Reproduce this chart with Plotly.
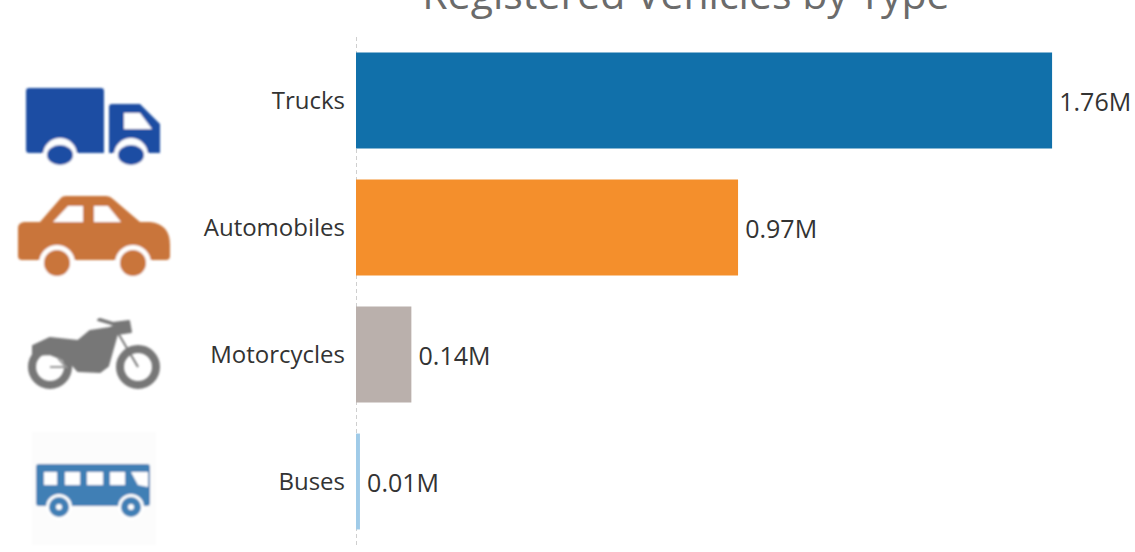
import base64

import plotly.graph_objects as go

vehicle_types = ['Trucks', 'Automobiles', 'Motorcycles', 'Buses']
registered_millions = [1.76, 0.966, 0.14, 0.01]
bar_colors = ['#1170aa', '#f48f2c', '#bab0ac', '#a0cbe8']

WIDTH, HEIGHT = 1135, 552
LEFT, TOP, BOTTOM = 354, 37, 7
PX_PER_MILLION = 395.5
TEXT_FONT = 'Open Sans'

truck_icon = '''
<g fill="#1f4ea3">
<path d="M29 88H101Q104 88 104 91V153H29Q26 153 26 150V91Q26 88 29 88Z"/>
<path d="M112 104H140L160 124V153H109V107Q109 104 112 104Z"/>
</g>
<path d="M124 113H140L152 129H124Z" fill="#fff"/>
<circle cx="60" cy="155" r="17" fill="#fff"/><circle cx="131" cy="155" r="17" fill="#fff"/>
<ellipse cx="60" cy="155" rx="13" ry="10" fill="#1f4ea3"/><ellipse cx="131" cy="155" rx="13" ry="10" fill="#1f4ea3"/>
'''

car_icon = '''
<path d="M66 196H106Q110 196 113 199L140 222H150Q170 224 170 245V256Q170 260 166 260H22Q18 260 18 256V228Q18 223 24 222H40L60 199Q62 196 66 196Z" fill="#c9743a"/>
<path d="M53 222L68 206H83V222Z M94 206H108L121 222H94Z" fill="#fff"/>
<circle cx="57" cy="263" r="18" fill="#fff"/><circle cx="133" cy="263" r="18" fill="#fff"/>
<circle cx="57" cy="263" r="13" fill="#c9743a"/><circle cx="133" cy="263" r="13" fill="#c9743a"/>
'''

motorcycle_icon = '''
<path d="M33 346L50 338L78 341L90 331L110 328L115 325L98 320L100 319L113 323L129 321L131 332L117 334L108 366L100 372L78 371L70 362L50 354L33 355Z"
 fill="#777" stroke="#777" stroke-width="2" stroke-linejoin="round"/>
<circle cx="50" cy="367" r="18" fill="none" stroke="#777" stroke-width="8"/>
<circle cx="138" cy="367" r="18" fill="none" stroke="#777" stroke-width="8"/>
<path d="M118 333L138 367" stroke="#777" stroke-width="2"/>
<path d="M50 367H66L58 358" stroke="#999" stroke-width="2" fill="none"/>
'''

bus_icon = '''
<rect x="32" y="432" width="124" height="113" fill="#fcfcfc"/>
<path d="M39 464H147Q150 464 150 467V503Q150 506 147 506H39Q36 506 36 503V467Q36 464 39 464Z" fill="#3f7fb5"/>
<path d="M44 472H57V485H44Z M65 472H80V485H65Z M87 472H103V485H87Z M110 472H125V485H110Z M131 472H148V487L138 485Z" fill="#fff"/>
<circle cx="59" cy="507" r="13" fill="#fff"/><circle cx="131" cy="507" r="13" fill="#fff"/>
<circle cx="59" cy="507" r="10" fill="#3f7fb5"/><circle cx="131" cy="507" r="10" fill="#3f7fb5"/>
<circle cx="59" cy="507" r="3" fill="#fff"/><circle cx="131" cy="507" r="3" fill="#fff"/>
'''

def icon_uri(body):
    # all icons sit on one 180 x 552 canvas, the left strip of the page
    svg = ('<svg xmlns="http://www.w3.org/2000/svg" width="180" height="552" viewBox="0 0 180 552">'
           '<filter id="soft"><feGaussianBlur stdDeviation="0.8"/></filter>'
           '<g filter="url(#soft)">' + body + '</g></svg>')
    return 'data:image/svg+xml;base64,' + base64.b64encode(svg.encode()).decode()

plot_w = WIDTH - LEFT
plot_h = HEIGHT - TOP - BOTTOM
# 2px of room left of zero, otherwise plotly drops the gridline at the axis edge
x_min = -2 / PX_PER_MILLION

fig = go.Figure(go.Bar(x=registered_millions, y=vehicle_types, orientation='h',
                       marker=dict(color=bar_colors, line=dict(width=0)),
                       texttemplate='\u2009%{x:.2f}M', textposition='outside',
                       textfont=dict(family=TEXT_FONT, size=25, color='#333333'),
                       cliponaxis=False, hoverinfo='skip'))

fig.add_layout_image(source=icon_uri(truck_icon + car_icon + motorcycle_icon + bus_icon),
                     xref='paper', yref='paper',
                     x=-LEFT / plot_w, y=(HEIGHT - BOTTOM) / plot_h,
                     sizex=180 / plot_w, sizey=HEIGHT / plot_h,
                     xanchor='left', yanchor='top', sizing='stretch', layer='above')

fig.update_layout(width=WIDTH, height=HEIGHT, showlegend=False, bargap=0.245,
                  paper_bgcolor='white', plot_bgcolor='white',
                  margin=dict(l=LEFT, r=0, t=TOP, b=BOTTOM, pad=0),
                  title=dict(text='Registered Vehicles by Type', x=686 / WIDTH, xanchor='center',
                             y=1 - 9 / HEIGHT, yanchor='bottom',
                             font=dict(family=TEXT_FONT, size=41, color='#6b6b6b')))
fig.update_xaxes(range=[x_min, x_min + plot_w / PX_PER_MILLION], tickvals=[0],
                 showticklabels=False, ticks='',
                 showgrid=True, gridcolor='#cfcfcf', griddash='4px,3px', gridwidth=1,
                 zeroline=False, showline=False)
fig.update_yaxes(autorange='reversed', showgrid=False, zeroline=False, showline=False, ticks='',
                 ticklabelstandoff=8, tickfont=dict(family=TEXT_FONT, size=24, color='#333333'))

fig.write_html("out.html", config=dict(displayModeBar=False),
               post_script="document.body.style.margin='0';")
